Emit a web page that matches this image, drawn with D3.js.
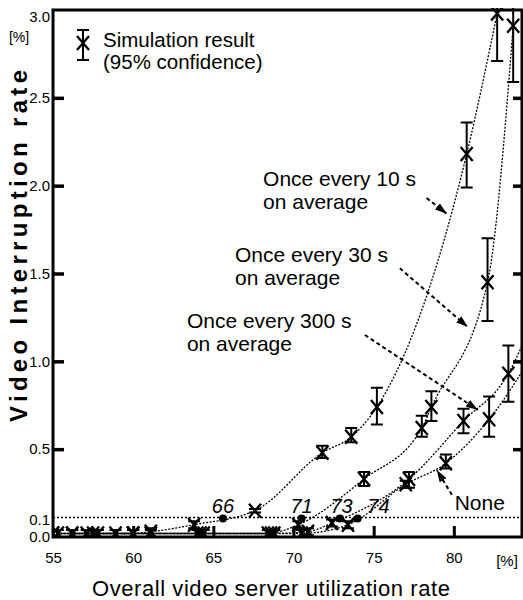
<!DOCTYPE html>
<html>
<head>
<meta charset="utf-8">
<script src="https://cdn.jsdelivr.net/npm/d3@7/dist/d3.min.js"></script>
<style>
  body { margin: 0; background: #fff; }
  svg { display: block; font-family: 'Liberation Sans', Arial, Helvetica, sans-serif; }
</style>
</head>
<body>
<svg id="chart" width="523" height="600"></svg>
<script>
// utilization rate [%] -> interruption rate [%], with 95% confidence bounds
const every10sX = [55, 56.2, 57.1, 58.9, 60.0, 61.1, 63.8, 67.6, 71.8, 73.6, 75.2, 80.8, 82.7]
const every10sY = [0.02, 0.02, 0.02, 0.02, 0.02, 0.03, 0.07, 0.15, 0.48, 0.57, 0.74, 2.18, 2.98]
const every10sLo = [0, 0, 0, 0, 0, 0, 0.05, 0.14, 0.45, 0.54, 0.64, 1.99, 2.71]
const every10sHi = [0.04, 0.04, 0.04, 0.04, 0.04, 0.05, 0.09, 0.16, 0.52, 0.62, 0.85, 2.36, 3.1]

const every30sX = [55, 57.5, 60.0, 64.2, 68.4, 70.3, 74.4, 78.0, 78.6, 82.1, 83.7]
const every30sY = [0.02, 0.02, 0.02, 0.02, 0.02, 0.07, 0.33, 0.62, 0.74, 1.45, 2.91]
const every30sLo = [0, 0, 0, 0, 0, 0.05, 0.29, 0.57, 0.66, 1.23, 2.59]
const every30sHi = [0.04, 0.04, 0.04, 0.04, 0.04, 0.09, 0.37, 0.69, 0.83, 1.7, 3.1]

const every300sX = [55.3, 57.8, 61.1, 64.4, 68.8, 70.9, 72.4, 77.2, 80.6, 83.4, 85.0]
const every300sY = [0.02, 0.02, 0.02, 0.02, 0.02, 0.03, 0.08, 0.33, 0.66, 0.93, 1.25]
const every300sLo = [0, 0, 0, 0, 0, 0.01, 0.06, 0.28, 0.59, 0.77, null]
const every300sHi = [0.04, 0.04, 0.04, 0.04, 0.04, 0.05, 0.1, 0.37, 0.73, 1.09, null]

const noneX = [56.2, 60.0, 64.0, 68.6, 70.5, 73.4, 77.0, 79.5, 82.2, 85.0]
const noneY = [0.02, 0.02, 0.02, 0.02, 0.02, 0.07, 0.3, 0.42, 0.67, 1.05]
const noneLo = [0, 0, 0, 0, 0, 0.05, 0.28, 0.39, 0.57, null]
const noneHi = [0.04, 0.04, 0.04, 0.04, 0.04, 0.09, 0.32, 0.47, 0.8, null]

// where each curve crosses 0.1 %
const thresholdX = [65.6, 70.5, 72.9, 74.0]
const thresholdLabels = ['66', '71', '73', '74']
const thresholdLabelX = [65.6, 70.5, 73.0, 75.3]
const thresholdLevel = 0.1

const xTicks = [55, 60, 65, 70, 75, 80]
const yTicks = [0, 0.1, 0.5, 1.0, 1.5, 2.0, 2.5, 3.0]

const noteLines = [['Once every 10 s', 'on average'], ['Once every 30 s', 'on average'], ['Once every 300 s', 'on average'], ['None']]
const noteX = [68.1, 66.35, 63.35, 80.05]
const noteY = [2.0, 1.565, 1.19, 0.154]
const arrowFrom = [[78.3, 1.93], [76.63, 1.53], [74.45, 1.15], [79.88, 0.24]]
const arrowTo = [[79.56, 1.84], [80.87, 1.195], [81.5, 0.723], [78.94, 0.381]]

const series = [
  { x: every10sX, y: every10sY, lo: every10sLo, hi: every10sHi },
  { x: every30sX, y: every30sY, lo: every30sLo, hi: every30sHi },
  { x: every300sX, y: every300sY, lo: every300sLo, hi: every300sHi },
  { x: noneX, y: noneY, lo: noneLo, hi: noneHi },
].map((s) => d3.zip(s.x, s.y, s.lo, s.hi).map(([x, y, lo, hi]) => ({ x, y, lo, hi })))

const plotLeft = 53
const plotRight = 522
const plotTop = 10
const plotBottom = 537

const x = d3.scaleLinear().domain([55, 84.25]).range([plotLeft, plotRight])
const y = d3.scaleLinear().domain([0, 3]).range([plotBottom, plotTop])

const svg = d3.select('#chart')

svg.append('rect').attr('width', 523).attr('height', 600).attr('fill', '#fff')

const defs = svg.append('defs')
defs.append('clipPath').attr('id', 'plot-clip')
  .append('rect')
  .attr('x', plotLeft)
  .attr('y', plotTop - 2)
  .attr('width', plotRight - plotLeft)
  .attr('height', plotBottom - plotTop + 2)

defs.append('marker')
  .attr('id', 'arrow')
  .attr('viewBox', '0 0 12 8')
  .attr('refX', 12)
  .attr('refY', 4)
  .attr('markerWidth', 12)
  .attr('markerHeight', 8)
  .attr('markerUnits', 'userSpaceOnUse')
  .attr('orient', 'auto')
  .append('path')
  .attr('d', 'M0,0L12,4L0,8Z')
  .attr('fill', '#000')

// 0.1 % reference line
svg.append('line')
  .attr('x1', plotLeft)
  .attr('x2', plotRight)
  .attr('y1', y(thresholdLevel) - 2)
  .attr('y2', y(thresholdLevel) - 2)
  .attr('stroke', '#000')
  .attr('stroke-width', 1.5)
  .attr('stroke-dasharray', '2,2')

const plot = svg.append('g').attr('clip-path', 'url(#plot-clip)')

const line = d3.line()
  .x((d) => x(d.x))
  .y((d) => y(d.y))
  .curve(d3.curveMonotoneX)

plot.selectAll('path.curve')
  .data(series)
  .join('path')
  .attr('class', 'curve')
  .attr('d', line)
  .attr('fill', 'none')
  .attr('stroke', '#000')
  .attr('stroke-width', 1.3)
  .attr('stroke-dasharray', '2,1.5')

const points = series.flat().filter((d) => d.lo !== null)

const drawMarker = (g, cx, cy) => {
  g.append('path')
    .attr('d', `M${cx - 6},${cy - 7}L${cx + 6},${cy + 7}M${cx - 6},${cy + 7}L${cx + 6},${cy - 7}`)
    .attr('stroke', '#000')
    .attr('stroke-width', 2.3)
    .attr('fill', 'none')
}

const drawErrorBar = (g, cx, y1, y2) => {
  g.append('path')
    .attr('d', `M${cx},${y1}L${cx},${y2}M${cx - 6},${y1}L${cx + 6},${y1}M${cx - 6},${y2}L${cx + 6},${y2}`)
    .attr('stroke', '#000')
    .attr('stroke-width', 2)
    .attr('fill', 'none')
}

points.forEach((d) => {
  drawErrorBar(plot, x(d.x), y(d.hi), y(d.lo))
  drawMarker(plot, x(d.x), y(d.y))
})

// threshold dots and italic labels
svg.selectAll('circle.threshold')
  .data(thresholdX)
  .join('circle')
  .attr('class', 'threshold')
  .attr('cx', (d) => x(d))
  .attr('cy', y(thresholdLevel) - 1)
  .attr('r', 4)
  .attr('fill', '#000')

svg.selectAll('text.threshold')
  .data(thresholdLabels)
  .join('text')
  .attr('class', 'threshold')
  .attr('x', (d, i) => x(thresholdLabelX[i]))
  .attr('y', y(thresholdLevel) - 6)
  .attr('text-anchor', 'middle')
  .attr('font-size', 20)
  .attr('font-style', 'italic')
  .text((d) => d)

// frame
svg.append('rect')
  .attr('x', plotLeft)
  .attr('y', plotTop)
  .attr('width', plotRight - plotLeft)
  .attr('height', plotBottom - plotTop)
  .attr('fill', 'none')
  .attr('stroke', '#000')
  .attr('stroke-width', 3)

const yAxis = svg.append('g')
  .attr('transform', `translate(${plotLeft},0)`)
  .call(d3.axisLeft(y).tickValues(yTicks).tickFormat(d3.format('.1f')).tickSize(-11).tickPadding(3))
yAxis.select('.domain').remove()
yAxis.selectAll('.tick line')
  .attr('stroke-width', 3.5)
  .attr('opacity', (d) => (d === 0 || d === 0.1 || d === 3 ? 0 : 1))
yAxis.selectAll('.tick text')
  .attr('font-size', 15)
  .attr('font-family', null)
  .attr('dy', (d) => (d === 3 ? '0.75em' : '0.32em'))

const yAxisRight = svg.append('g')
  .attr('transform', `translate(${plotRight},0)`)
  .call(d3.axisRight(y).tickValues(yTicks.filter((d) => d > 0.1 && d < 3)).tickSize(-9).tickFormat(''))
yAxisRight.select('.domain').remove()
yAxisRight.selectAll('.tick line').attr('stroke-width', 3.5)

const xAxis = svg.append('g')
  .attr('transform', `translate(0,${plotBottom})`)
  .call(d3.axisBottom(x).tickValues(xTicks).tickSize(-11).tickPadding(15))
xAxis.select('.domain').remove()
xAxis.selectAll('.tick line')
  .attr('stroke-width', 3)
  .attr('opacity', (d) => (d === 55 ? 0 : 1))
xAxis.selectAll('.tick text')
  .attr('font-size', 15)
  .attr('font-family', null)

svg.append('text')
  .attr('x', plotRight - 15)
  .attr('y', plotBottom + 29)
  .attr('text-anchor', 'middle')
  .attr('font-size', 15)
  .text('[%]')

svg.append('text')
  .attr('x', 19)
  .attr('y', 42)
  .attr('text-anchor', 'middle')
  .attr('font-size', 14)
  .text('[%]')

svg.append('text')
  .attr('x', 271)
  .attr('y', 596)
  .attr('text-anchor', 'middle')
  .attr('font-size', 22)
  .attr('textLength', 358)
  .attr('lengthAdjust', 'spacing')
  .text('Overall video server utilization rate')

svg.append('text')
  .attr('transform', 'translate(27,246) rotate(-90)')
  .attr('text-anchor', 'middle')
  .attr('font-size', 24)
  .attr('font-weight', 'bold')
  .attr('textLength', 352)
  .attr('lengthAdjust', 'spacing')
  .text('Video Interruption rate')

// legend
const legend = svg.append('g')
drawErrorBar(legend, 83, 30, 60)
drawMarker(legend, 83, 43)
legend.append('text')
  .attr('x', 103)
  .attr('y', 47)
  .attr('font-size', 20.5)
  .text('Simulation result')
legend.append('text')
  .attr('x', 103)
  .attr('y', 69)
  .attr('font-size', 20.5)
  .text('(95% confidence)')

// annotations
noteLines.forEach((lines, i) => {
  const t = svg.append('text')
    .attr('x', x(noteX[i]))
    .attr('y', y(noteY[i]))
    .attr('font-size', 21)
  lines.forEach((s, j) => {
    t.append('tspan')
      .attr('x', x(noteX[i]))
      .attr('dy', j === 0 ? 0 : 23)
      .text(s)
  })
  svg.append('line')
    .attr('x1', x(arrowFrom[i][0]))
    .attr('y1', y(arrowFrom[i][1]))
    .attr('x2', x(arrowTo[i][0]))
    .attr('y2', y(arrowTo[i][1]))
    .attr('stroke', '#000')
    .attr('stroke-width', 2)
    .attr('stroke-dasharray', '4,3')
    .attr('marker-end', 'url(#arrow)')
})
</script>
</body>
</html>
